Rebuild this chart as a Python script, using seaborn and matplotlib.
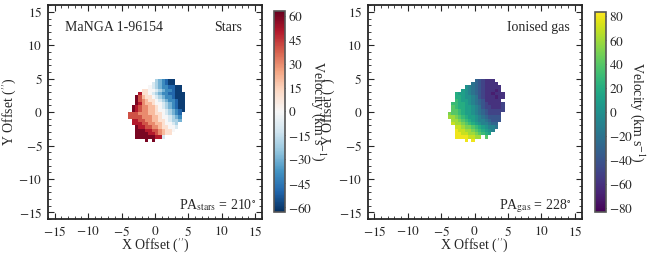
import numpy as np
import matplotlib
matplotlib.use("Agg")
import matplotlib.pyplot as plt
from matplotlib.ticker import FuncFormatter
import seaborn as sns

# MaNGA 1-96154 velocity maps, 0.5" spaxels, rows from top (y=5") down, columns from x=-4"
# '.' = no data, letters = velocity levels (see *_levels below)
star_levels = "ABCDEFGHIJKLM"          # -60 ... +60 km/s, step 10
star_map = [
    "........EDCBAA...",
    ".......FEDCBAA...",
    "......GFEDCCBBAA.",
    "....HHGGFEDCCBAA.",
    "...LHHGFEDCCBBAAA",
    "..MKIHHGFEDCCBAAA",
    "..MKJIHHGFEDCCBAA",
    "..MLJIIHGGFEDCBAA",
    ".MLKJJIIHGFEDCBAA",
    ".MLKJJIIHGGFEDCBA",
    "KKKJJJIIHHGFEDCB.",
    "KKKKJJJIIHGGFEDC.",
    ".LLKKJJIIHHGFEED.",
    ".LLLKKJJIIHGGFE..",
    "..MLLKKJJIHHGGF..",
    "..MMMLLKKJIHHG...",
    "..MMMMLLKJIHH....",
    "..MMMMMMLLF......",
    ".....M.M.........",
]

gas_levels = "ABCDEFGHIJKLMNOPQ"   # -80 ... +80 km/s, step 10
gas_map = [
    "........FEDCCC...",
    ".......GFEDCCCC..",
    ".....IHGFEDCCCCC.",
    "....JIHGFEDCCCBC.",
    "..KJJIHGFEDCCBCCC",
    "..KKJIIHGEDCCCBCC",
    "..LKJJIHGFECCCCC.",
    ".LLKKJIHGFEDCCCCD",
    ".MLKKJJIHGEDDCCCD",
    ".MMLKJJIHGFEDDDDD",
    "NMMLKJJIHGFEDDDD.",
    "OONMLKJJIHGFEEEE.",
    ".OONMLKJIHHGFEEE.",
    ".POONMLKJIHHGFF..",
    "..PPONNMLKJIHHG..",
    "..QPPOONMLKJIH...",
    "..QQPPOONMLKJ....",
    "..QQQQPPOO.M.....",
    ".....Q.Q.........",
]

star_ticks = [-60, -45, -30, -15, 0, 15, 30, 45, 60]
gas_ticks = [-80, -60, -40, -20, 0, 20, 40, 60, 80]


def decode(rows, levels, lo, step):
    out = np.full((len(rows), len(rows[0])), np.nan)
    for i, row in enumerate(rows):
        for j, ch in enumerate(row):
            if ch != ".":
                out[i, j] = lo + step * levels.index(ch)
    return out


v_star = decode(star_map, star_levels, -60, 10)
v_gas = decode(gas_map, gas_levels, -80, 10)

spax = 0.5
x_edges = -4 + spax * np.arange(v_star.shape[1] + 1)
y_edges = 5 - spax * np.arange(v_star.shape[0] + 1)

sns.set_style("ticks")
plt.rcParams["font.family"] = "serif"
plt.rcParams["font.serif"] = ["Liberation Serif", "DejaVu Serif"]
plt.rcParams["mathtext.fontset"] = "stix"
plt.rcParams["font.size"] = 9

math_fmt = FuncFormatter(lambda v, p: r"$%g$" % v)

fig = plt.figure(figsize=(6.48, 2.58), dpi=100)
ax1 = fig.add_axes([0.0741, 0.151, 0.330, 0.829])
cax1 = fig.add_axes([0.4228, 0.179, 0.017, 0.778])
ax2 = fig.add_axes([0.5674, 0.151, 0.330, 0.829])
cax2 = fig.add_axes([0.9182, 0.177, 0.017, 0.778])

panels = [
    (ax1, cax1, v_star, sns.color_palette("RdBu_r", as_cmap=True), 63, star_ticks, 4.9),
    (ax2, cax2, v_gas, sns.color_palette("viridis", as_cmap=True), 84, gas_ticks, 4.7),
]

for ax, cax, vel, cmap, vlim, ticks, cb_lab_x in panels:
    mesh = ax.pcolormesh(x_edges, y_edges, np.ma.masked_invalid(vel), cmap=cmap,
                         vmin=-vlim, vmax=vlim, shading="flat")
    ax.set_xlim(-16, 16)
    ax.set_ylim(-16, 16)
    ax.set_xticks(np.arange(-15, 16, 5))
    ax.set_yticks(np.arange(-15, 16, 5))
    ax.set_xticks(np.arange(-16, 17, 1), minor=True)
    ax.set_yticks(np.arange(-16, 17, 1), minor=True)
    ax.xaxis.set_major_formatter(math_fmt)
    ax.yaxis.set_major_formatter(math_fmt)
    ax.tick_params(which="both", direction="in", top=True, right=True, labelsize=9.5, pad=4)
    ax.tick_params(which="major", length=4, width=0.8)
    ax.tick_params(which="minor", length=2, width=0.6)
    for s in ax.spines.values():
        s.set_linewidth(1.3)
    ax.set_xlabel(r"X Offset ($^{\prime\prime}$)", fontsize=10)
    ax.set_ylabel(r"Y Offset ($^{\prime\prime}$)", fontsize=10)
    ax.xaxis.set_label_coords(0.5, -0.082)
    ax.yaxis.set_label_coords(-0.138, 0.5)

    cb = fig.colorbar(mesh, cax=cax, ticks=ticks, format=math_fmt)
    cb.outline.set_edgecolor("#555555")
    cb.outline.set_linewidth(1.2)
    cax.tick_params(direction="in", length=3, width=0.6, labelsize=9.5, pad=2,
                    left=True, right=True)
    cb.set_label(r"Velocity (km s$^{-1}$)", rotation=270, fontsize=10)
    cax.yaxis.set_label_coords(cb_lab_x, 0.5)

ax1.text(-13.4, 13.7, "MaNGA 1-96154", fontsize=10, ha="left", va="top")
ax1.text(13.1, 13.7, "Stars", fontsize=10, ha="right", va="top")
ax1.text(15.2, -14.5, r"PA$_{\rm stars}$ = 210$^{\circ}$", fontsize=10, ha="right", va="baseline")
ax2.text(14.2, 13.7, "Ionised gas", fontsize=10, ha="right", va="top")
ax2.text(14.5, -14.5, r"PA$_{\rm gas}$ = 228$^{\circ}$", fontsize=10, ha="right", va="baseline")

fig.savefig("out.png", dpi=100)
